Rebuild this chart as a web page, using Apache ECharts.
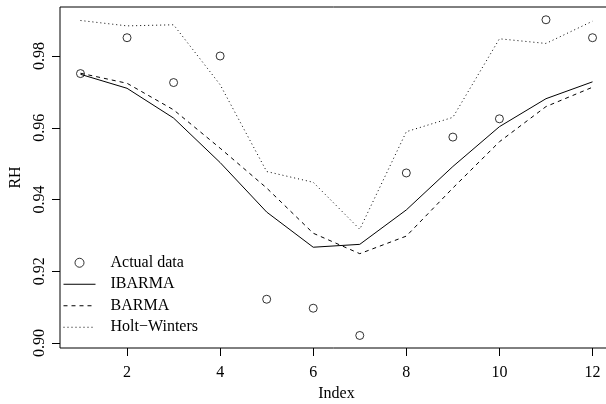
<!DOCTYPE html>
<html>
<head>
<meta charset="utf-8">
<script src="https://cdn.jsdelivr.net/npm/echarts@6/dist/echarts.min.js"></script>
<style>html,body{margin:0;padding:0;background:#fff;}#c{width:606px;height:404px;}</style>
</head>
<body>
<div id="c"></div>
<script>
var indexVals = [1, 2, 3, 4, 5, 6, 7, 8, 9, 10, 11, 12];
var actualData = [0.9751, 0.9851, 0.9726, 0.9800, 0.9122, 0.9097, 0.9021, 0.9474, 0.9574, 0.9625, 0.9901, 0.9851];
var ibarmaData = [0.9749, 0.9710, 0.9627, 0.9503, 0.9365, 0.9267, 0.9275, 0.9371, 0.9492, 0.9603, 0.9681, 0.9728];
var barmaData = [0.9752, 0.9724, 0.9650, 0.9543, 0.9432, 0.9306, 0.9249, 0.9298, 0.9432, 0.9561, 0.9659, 0.9713];
var hwData = [0.9899, 0.9884, 0.9887, 0.9720, 0.9478, 0.9448, 0.9317, 0.9589, 0.9629, 0.9848, 0.9835, 0.9897];
var xTicks = [2, 4, 6, 8, 10, 12];
var yTicks = [0.90, 0.92, 0.94, 0.96, 0.98];

function pairs(ys) { return indexVals.map(function (x, i) { return [x, ys[i]]; }); }

var FONT = 'Liberation Serif';
var noSym = { color: 'rgba(0,0,0,0)', borderWidth: 0, opacity: 0 };
var chart = echarts.init(document.getElementById('c'), null, { renderer: 'canvas' });
chart.setOption({
  animation: false,
  backgroundColor: '#fff',
  grid: { left: 60, top: 7, right: -7, bottom: 56, show: true, borderColor: '#000', borderWidth: 1, backgroundColor: 'transparent',
    containLabel: false, outerBoundsMode: 'none' },
  xAxis: {
    type: 'value', min: 0.56, max: 12.44,
    name: 'Index', nameLocation: 'middle', nameGap: 38,
    nameTextStyle: { fontFamily: FONT, fontSize: 16, color: '#000' },
    axisLine: { show: false },
    axisTick: { show: true, inside: false, length: 8, lineStyle: { color: '#000', width: 1 }, customValues: xTicks },
    axisLabel: { customValues: xTicks, margin: 17, fontFamily: FONT, fontSize: 16, color: '#000' },
    splitLine: { show: false }
  },
  yAxis: {
    type: 'value', min: 0.89861, max: 0.99366,
    name: 'RH', nameLocation: 'middle', nameGap: 36,
    nameTextStyle: { fontFamily: FONT, fontSize: 16, color: '#000' },
    axisLine: { show: false },
    axisTick: { show: true, inside: false, length: 8, lineStyle: { color: '#000', width: 1 }, customValues: yTicks },
    axisLabel: { customValues: yTicks, rotate: 90, margin: 12, fontFamily: FONT, fontSize: 16, color: '#000',
      formatter: function (v) { return v.toFixed(2); } },
    splitLine: { show: false }
  },
  legend: {
    orient: 'vertical', left: 58, top: 247, itemWidth: 32, itemHeight: 9, itemGap: 0,
    textStyle: { fontFamily: FONT, fontSize: 16, color: '#000', lineHeight: 21.5, padding: [0, 0, 0, 10] },
    data: [
      { name: 'Actual data', itemStyle: { color: 'rgba(0,0,0,0)', borderColor: '#000', borderWidth: 1 } },
      { name: 'IBARMA', itemStyle: noSym, lineStyle: { width: 1, color: '#000', type: 'solid' } },
      { name: 'BARMA', itemStyle: noSym, lineStyle: { width: 1, color: '#000', type: [4, 4] } },
      { name: 'Holt\u2212Winters', itemStyle: noSym, lineStyle: { width: 1, color: '#000', type: [1, 3] } }
    ]
  },
  series: [
    { name: 'IBARMA', type: 'line', data: pairs(ibarmaData), symbol: 'none', lineStyle: { color: '#000', width: 1, type: 'solid' }, itemStyle: { color: '#000' }, z: 2 },
    { name: 'BARMA', type: 'line', data: pairs(barmaData), symbol: 'none', lineStyle: { color: '#000', width: 1, type: [4, 4] }, itemStyle: { color: '#000' }, z: 2 },
    { name: 'Holt\u2212Winters', type: 'line', data: pairs(hwData), symbol: 'none', lineStyle: { color: '#000', width: 1, type: [1, 3] }, itemStyle: { color: '#000' }, z: 2 },
    { name: 'Actual data', type: 'scatter', data: pairs(actualData), symbol: 'circle', symbolSize: 8,
      itemStyle: { color: 'rgba(0,0,0,0)', borderColor: '#000', borderWidth: 1 }, z: 3 }
  ]
});
</script>
</body>
</html>
